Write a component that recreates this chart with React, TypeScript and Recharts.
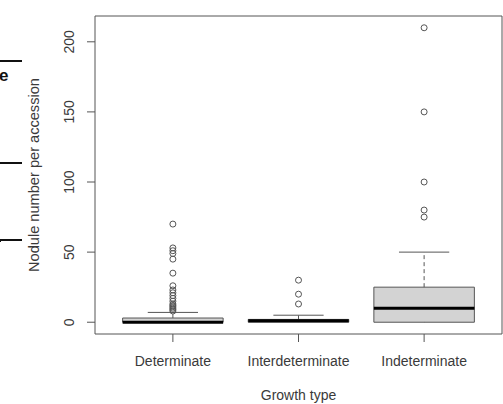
import React from "react";
import {
  ComposedChart,
  XAxis,
  YAxis,
  Scatter,
  ReferenceArea,
  ReferenceLine,
} from "recharts";

const categories = ["Determinate", "Interdeterminate", "Indeterminate"];
const q1Values = [0, 0, 0];
const medianValues = [0, 1, 10];
const q3Values = [3, 2, 25];
const lowerWhiskers = [0, 0, 0];
const upperWhiskers = [7, 5, 50];
const outliersDeterminate = [70, 53, 51, 49, 45, 35, 26, 23, 21, 19, 17, 15, 13, 12, 11, 10, 9, 8];
const outliersInterdeterminate = [30, 20, 13];
const outliersIndeterminate = [210, 150, 100, 80, 75];
const yTicks = [0, 50, 100, 150, 200];

const outlierLists = [outliersDeterminate, outliersInterdeterminate, outliersIndeterminate];
const outlierData = outlierLists.flatMap((list, i) => list.map((v) => ({ x: i + 1, y: v })));

const X_DOMAIN: [number, number] = [0.38, 3.62];
const Y_DOMAIN: [number, number] = [-8.4, 218.4];
const HALF_BOX = 0.4;
const HALF_CAP = 0.2;

const FONT = "'Liberation Sans', Arial, sans-serif";
const TEXT = "#3a3a3a";
const LINE = "#555";

const XTick = (props: any) => {
  const { x, y, payload } = props;
  return (
    <text x={x} y={y + 22} textAnchor="middle" fontSize={14} fontFamily={FONT} fill={TEXT}>
      {categories[payload.value - 1]}
    </text>
  );
};

const YTick = (props: any) => {
  const { x, y, payload } = props;
  const tx = x - 11;
  return (
    <text
      x={tx}
      y={y}
      textAnchor="middle"
      fontSize={14}
      fontFamily={FONT}
      fill={TEXT}
      transform={`rotate(-90, ${tx}, ${y})`}
    >
      {payload.value}
    </text>
  );
};

const Circle = (props: any) => {
  const { cx, cy } = props;
  return <circle cx={cx} cy={cy} r={3} fill="none" stroke={LINE} strokeWidth={1} />;
};

export default function App() {
  return (
    <div style={{ position: "absolute", left: 0, top: 0, width: 503, height: 404, background: "#fff" }}>
      <ComposedChart
        width={503}
        height={404}
        margin={{ top: 16, right: 1, bottom: 0, left: 0 }}
      >
        <XAxis
          type="number"
          dataKey="x"
          domain={X_DOMAIN}
          ticks={[1, 2, 3]}
          allowDataOverflow
          height={70}
          axisLine={false}
          tickLine={{ stroke: LINE }}
          tickSize={8}
          tick={XTick}
          label={{
            content: (p: any) => {
              const vb = p.viewBox || {};
              return (
                <text
                  x={vb.x + vb.width / 2}
                  y={vb.y + 66}
                  textAnchor="middle"
                  fontSize={14}
                  fontFamily={FONT}
                  fill={TEXT}
                >
                  Growth type
                </text>
              );
            },
          }}
        />
        <YAxis
          type="number"
          dataKey="y"
          domain={Y_DOMAIN}
          ticks={yTicks}
          allowDataOverflow
          width={95}
          axisLine={false}
          tickLine={{ stroke: LINE }}
          tickSize={8}
          tick={YTick}
          label={{
            content: (p: any) => {
              const vb = p.viewBox || {};
              const cx = 39;
              const cy = vb.y + vb.height / 2;
              return (
                <text
                  x={cx}
                  y={cy}
                  textAnchor="middle"
                  fontSize={14.6}
                  fontFamily={FONT}
                  fill={TEXT}
                  transform={`rotate(-90, ${cx}, ${cy})`}
                >
                  Nodule number per accession
                </text>
              );
            },
          }}
        />
        <ReferenceArea
          x1={X_DOMAIN[0]}
          x2={X_DOMAIN[1]}
          y1={Y_DOMAIN[0]}
          y2={Y_DOMAIN[1]}
          fill="none"
          stroke={LINE}
          strokeWidth={1}
          ifOverflow="visible"
        />
        {categories.map((c, i) => (
          <ReferenceLine
            key={`wu-${c}`}
            segment={[
              { x: i + 1, y: q3Values[i] },
              { x: i + 1, y: upperWhiskers[i] },
            ]}
            stroke={LINE}
            strokeDasharray="4 3"
            ifOverflow="visible"
          />
        ))}
        {categories.map((c, i) => (
          <ReferenceLine
            key={`wl-${c}`}
            segment={[
              { x: i + 1, y: q1Values[i] },
              { x: i + 1, y: lowerWhiskers[i] },
            ]}
            stroke={LINE}
            strokeDasharray="4 3"
            ifOverflow="visible"
          />
        ))}
        {categories.map((c, i) => (
          <ReferenceLine
            key={`cu-${c}`}
            segment={[
              { x: i + 1 - HALF_CAP, y: upperWhiskers[i] },
              { x: i + 1 + HALF_CAP, y: upperWhiskers[i] },
            ]}
            stroke={LINE}
            ifOverflow="visible"
          />
        ))}
        {categories.map((c, i) => (
          <ReferenceArea
            key={`box-${c}`}
            x1={i + 1 - HALF_BOX}
            x2={i + 1 + HALF_BOX}
            y1={q1Values[i]}
            y2={q3Values[i]}
            fill="#d3d3d3"
            fillOpacity={1}
            stroke={LINE}
            strokeWidth={1}
            ifOverflow="visible"
          />
        ))}
        {categories.map((c, i) => (
          <ReferenceLine
            key={`med-${c}`}
            segment={[
              { x: i + 1 - HALF_BOX, y: medianValues[i] },
              { x: i + 1 + HALF_BOX, y: medianValues[i] },
            ]}
            stroke="#000"
            strokeWidth={3}
            ifOverflow="visible"
          />
        ))}
        <Scatter data={outlierData} shape={Circle} isAnimationActive={false} />
      </ComposedChart>
      {/* cropped remnants at the left edge of the source image */}
      <div style={{ position: "absolute", left: 0, top: 60, width: 22, height: 2, background: "#111" }} />
      <div
        style={{
          position: "absolute",
          left: -1,
          top: 67,
          fontFamily: FONT,
          fontWeight: "bold",
          fontSize: 17,
          color: "#111",
          lineHeight: "17px",
        }}
      >
        e
      </div>
      <div style={{ position: "absolute", left: 0, top: 162, width: 22, height: 2, background: "#111" }} />
      <div style={{ position: "absolute", left: 0, top: 239, width: 22, height: 2, background: "#111" }} />
      <div style={{ position: "absolute", left: 0, top: 239, width: 1, height: 3, background: "#111" }} />
    </div>
  );
}
